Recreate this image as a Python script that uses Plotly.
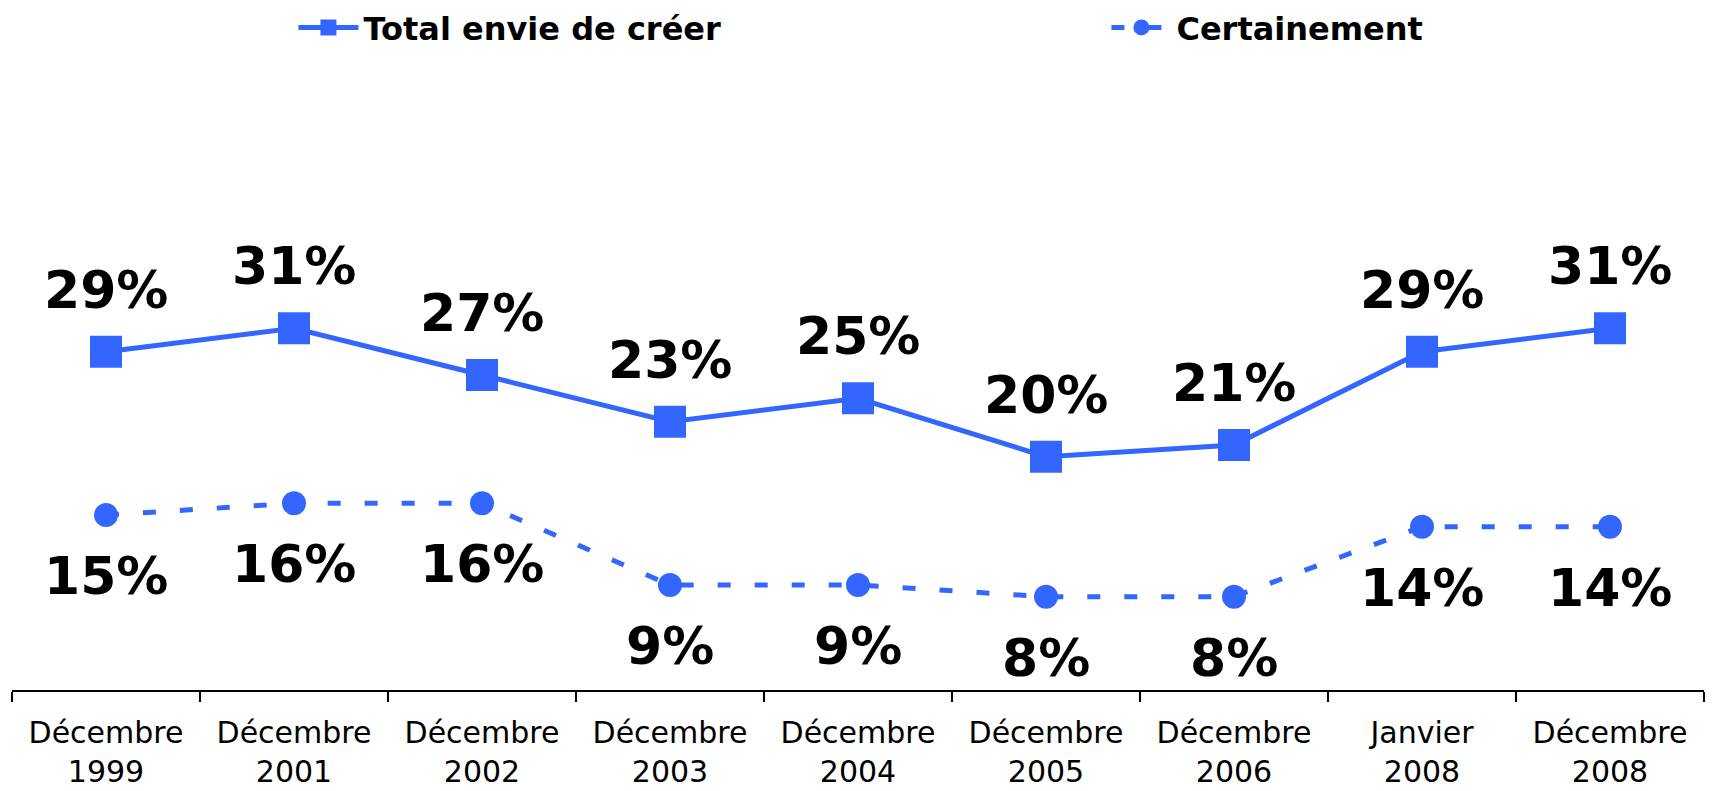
import plotly.graph_objects as go

categories = ["Décembre<br>1999", "Décembre<br>2001", "Décembre<br>2002", "Décembre<br>2003",
              "Décembre<br>2004", "Décembre<br>2005", "Décembre<br>2006", "Janvier<br>2008",
              "Décembre<br>2008"]
total_envie = [29, 31, 27, 23, 25, 20, 21, 29, 31]
certainement = [15, 16, 16, 9, 9, 8, 8, 14, 14]

BLUE = "#3366FF"
fig = go.Figure()
fig.add_trace(go.Scatter(
    x=categories, y=total_envie, name="Total envie de créer", mode="lines+markers",
    line=dict(color=BLUE, width=5),
    marker=dict(symbol="square", size=32, color=BLUE),
))
fig.add_trace(go.Scatter(
    x=categories, y=certainement, name="Certainement", mode="lines+markers",
    line=dict(color=BLUE, width=5, dash="13px,24px"),
    marker=dict(symbol="circle", size=24, color=BLUE),
))

label_font = dict(family="DejaVu Sans", size=52, color="black", weight="bold")
annotations = []
for c, v in zip(categories, total_envie):
    annotations.append(dict(x=c, y=v, text=f"{v}%", showarrow=False, yshift=62, font=label_font))
for c, v in zip(categories, certainement):
    annotations.append(dict(x=c, y=v, text=f"{v}%", showarrow=False, yshift=-61, font=label_font))

fig.update_layout(
    width=1716, height=791,
    margin=dict(l=12, r=12, t=60, b=101, autoexpand=False),
    plot_bgcolor="white", paper_bgcolor="white",
    hovermode=False,
    annotations=annotations,
    legend=dict(orientation="h", x=0.171, xref="container", xanchor="left",
                y=1.095, yanchor="top",
                entrywidth=738, itemwidth=60,
                font=dict(family="DejaVu Sans", size=32, color="black", weight="bold")),
    xaxis=dict(type="category", range=[-0.5, 8.5], showline=True, linecolor="black", linewidth=2,
               ticks="outside", tickson="boundaries", ticklen=10, tickwidth=2, tickcolor="black",
               showgrid=False, zeroline=False, automargin=False, ticklabelstandoff=15,
               tickfont=dict(family="DejaVu Sans", size=30, color="black")),
    yaxis=dict(range=[0, 54], visible=False, showgrid=False, zeroline=False, automargin=False),
)
fig.write_html("out.html", config={"displayModeBar": False},
               post_script="document.body.style.margin='0';")
